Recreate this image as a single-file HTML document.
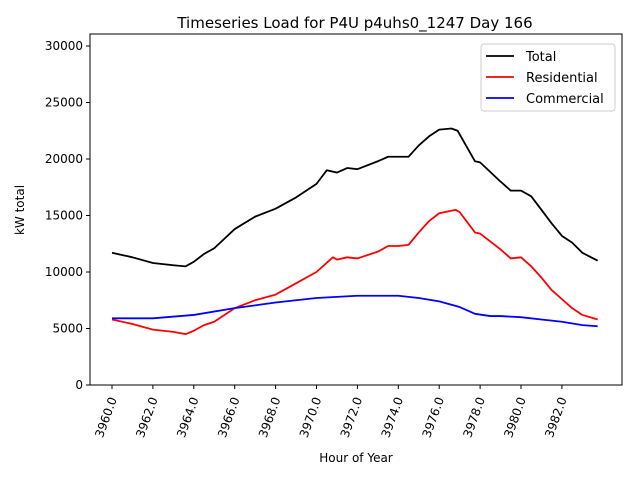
<!DOCTYPE html>
<html><head><meta charset="utf-8"><style>body{margin:0;background:#fff}svg{display:block;font-family:"DejaVu Sans","Liberation Sans",sans-serif}</style></head>
<body>
<svg id="chart" width="640" height="480"></svg>
<script>
const totalX=[3960,3961,3962,3963,3963.6,3964,3964.5,3965,3966,3967,3968,3969,3970,3970.5,3971,3971.5,3972,3973,3973.5,3974,3974.5,3975,3975.5,3976,3976.6,3976.9,3977.75,3978,3979,3979.5,3980,3980.5,3981,3981.5,3982,3982.5,3983,3983.75];
const totalY=[11700,11300,10800,10600,10500,10900,11600,12100,13800,14900,15600,16600,17800,19000,18800,19200,19100,19800,20200,20200,20200,21200,22000,22600,22700,22500,19800,19700,18000,17200,17200,16700,15500,14300,13200,12600,11700,11000];
const resX=[3960,3961,3962,3963,3963.6,3964,3964.5,3965,3966,3967,3968,3969,3970,3970.8,3971,3971.5,3972,3973,3973.5,3974,3974.5,3975,3975.5,3976,3976.8,3977,3977.75,3978,3979,3979.5,3980,3980.5,3981,3981.5,3982,3982.5,3983,3983.75];
const resY=[5800,5400,4900,4700,4500,4800,5300,5600,6800,7500,8000,9000,10000,11300,11100,11300,11200,11800,12300,12300,12400,13500,14500,15200,15500,15300,13500,13400,12000,11200,11300,10500,9500,8400,7600,6800,6200,5800];
const comX=[3960,3962,3964,3966,3968,3970,3972,3974,3975,3976,3977,3977.75,3978.5,3979,3980,3981,3982,3983,3983.75];
const comY=[5900,5900,6200,6800,7300,7700,7900,7900,7700,7400,6900,6300,6100,6100,6000,5800,5600,5300,5200];
const xTicks=[3960,3962,3964,3966,3968,3970,3972,3974,3976,3978,3980,3982];
const yTicks=[0,5000,10000,15000,20000,25000,30000];
const NS="http://www.w3.org/2000/svg";
const svg=document.getElementById('chart');
const L=90,R=622,T=34,B=385;
const sx=v=>112+(v-3960)*20.45;
const sy=v=>B-(v)*0.0113;
function mk(tag,attrs,parent){const e=document.createElementNS(NS,tag);for(const k in attrs)e.setAttribute(k,attrs[k]);(parent||svg).appendChild(e);return e;}
let t=mk('text',{x:355,y:28,'text-anchor':'middle','font-size':15});t.textContent='Timeseries Load for P4U p4uhs0_1247  Day 166';


xTicks.forEach(v=>{const x=sx(v);
 const l=mk('line',{x1:x,x2:x,y1:B,y2:B+4,stroke:'#000'});
 
 
 const tx=mk('text',{x:0,y:0,'text-anchor':'end','font-size':12,transform:`translate(${x+5},${B+14}) rotate(-70)`});
 tx.textContent=v.toFixed(1);
 
 
});
yTicks.forEach(v=>{const y=sy(v);
 const l=mk('line',{x1:L-4,x2:L,y1:y,y2:y,stroke:'#000'});
 
 
 const tx=mk('text',{x:L-7,y:y+4,'text-anchor':'end','font-size':12});
 tx.textContent=v;
 
 
});
function series(xs,ys,color,name){const p=mk('polyline',{points:xs.map((x,i)=>sx(x)+','+sy(ys[i])).join(' '),fill:'none',stroke:color,'stroke-width':1.8,'stroke-linejoin':'round'});
 
 }
series(totalX,totalY,'#000','total-line');
series(resX,resY,'#f00','residential-line');
series(comX,comY,'#00f','commercial-line');
const fr=mk('rect',{x:L,y:T,width:R-L,height:B-T,fill:'none',stroke:'#000','stroke-width':1});


let xl=mk('text',{x:356,y:462,'text-anchor':'middle','font-size':12});xl.textContent='Hour of Year';


let yl=mk('text',{x:0,y:0,'text-anchor':'middle','font-size':12,transform:'translate(24,210) rotate(-90)'});yl.textContent='kW total';


const lg=mk('rect',{x:481,y:44,width:134,height:67,rx:3,fill:'#fff',stroke:'#ccc'});


[['Total','#000'],['Residential','#f00'],['Commercial','#00f']].forEach((e,i)=>{const y=56+i*21;
 const l=mk('line',{x1:486,x2:514,y1:y,y2:y,stroke:e[1],'stroke-width':1.8});
 
 
 const tx=mk('text',{x:526,y:y+5,'font-size':13});tx.textContent=e[0];
 
 
});
</script>
</body></html>
